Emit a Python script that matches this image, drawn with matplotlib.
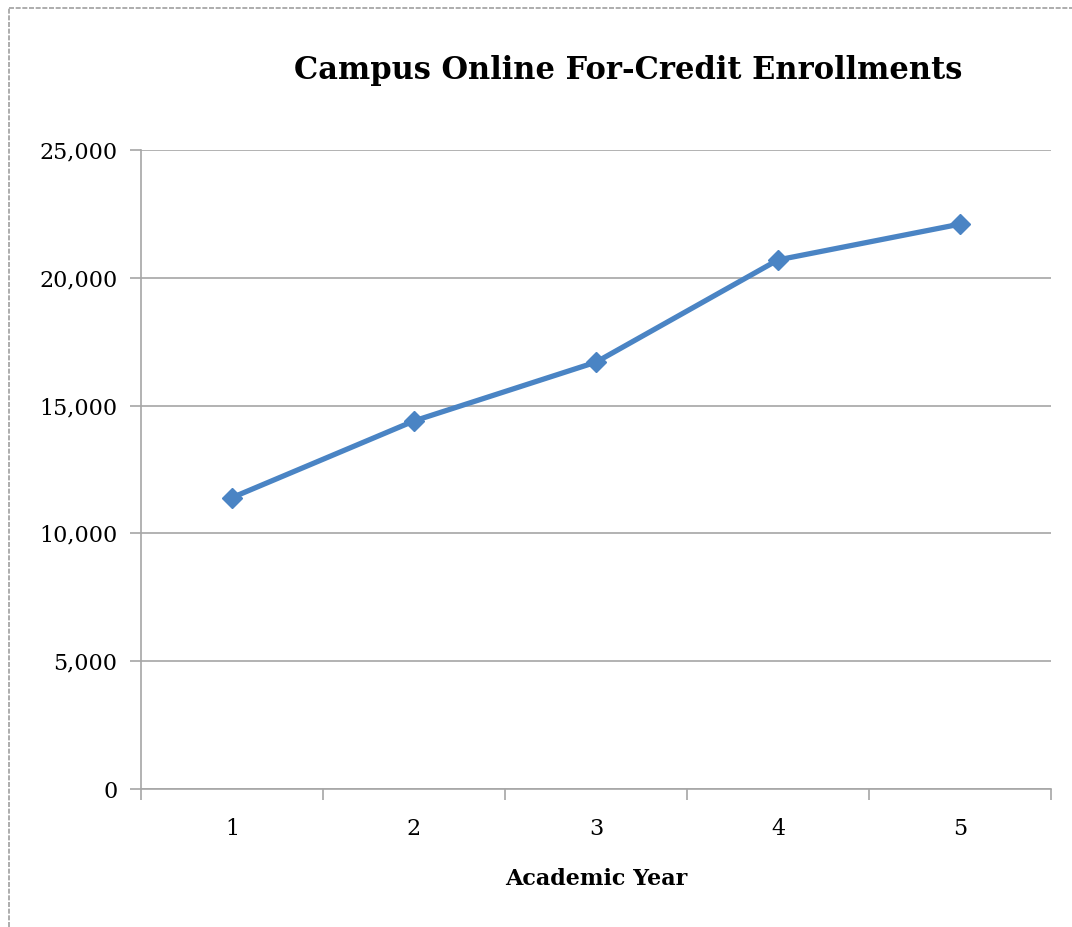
import matplotlib
matplotlib.use("Agg")
import matplotlib.pyplot as plt
from matplotlib.lines import Line2D
from matplotlib.ticker import FuncFormatter, FixedLocator, NullFormatter

years = ["1", "2", "3", "4", "5"]
enrollments = [11400, 14400, 16700, 20700, 22100]
y_ticks = [0, 5000, 10000, 15000, 20000, 25000]

plt.rcParams['font.family'] = ['DejaVu Serif', 'Liberation Serif']

fig = plt.figure(figsize=(10.72, 9.27), dpi=100)
ax = fig.add_axes([141/1072, 138/927, 910/1072, 639/927])

x = list(range(len(years)))
ax.plot(x, enrollments, color="#4A84C4", linewidth=3.8, marker="D", markersize=10,
        markeredgecolor="#4A84C4", markerfacecolor="#4A84C4", zorder=3)

ax.set_xlim(-0.5, len(years) - 0.5)
ax.set_ylim(0, 25000)
ax.set_yticks(y_ticks)
ax.yaxis.set_major_formatter(FuncFormatter(lambda v, p: f"{int(v):,}"))
ax.grid(axis="y", color="#A6A6A6", linewidth=1.2)
ax.set_axisbelow(True)

# category labels at centers, tick marks at boundaries
ax.xaxis.set_major_locator(FixedLocator([i - 0.5 for i in range(len(years) + 1)]))
ax.xaxis.set_major_formatter(NullFormatter())
ax.xaxis.set_minor_locator(FixedLocator(x))
ax.set_xticklabels(years, minor=True)
ax.tick_params(axis="x", which="major", direction="out", length=8, color="#A6A6A6", width=1.2)
ax.tick_params(axis="x", which="minor", length=0, pad=21, labelsize=16)
ax.tick_params(axis="y", direction="out", length=8, color="#A6A6A6", width=1.2, labelsize=16, pad=9)

for s in ["top", "right"]:
    ax.spines[s].set_visible(False)
for s in ["left", "bottom"]:
    ax.spines[s].set_color("#A6A6A6")
    ax.spines[s].set_linewidth(1.2)

ax.set_xlabel("Academic Year", fontsize=16, fontweight="bold", labelpad=20)
fig.text(628/1072, 1 - 70/927, "Campus Online For-Credit Enrollments", ha="center", va="center",
         fontsize=22, fontweight="bold")

# left and top frame edges only
bx, by = 8.5/1072, 1 - 7.5/927
fig.add_artist(Line2D([bx, bx], [0, by], transform=fig.transFigure, color="#A0A0A0",
                      linewidth=1.2, linestyle=(0, (3, 1))))
fig.add_artist(Line2D([bx, 1], [by, by], transform=fig.transFigure, color="#A0A0A0",
                      linewidth=1.2, linestyle=(0, (3, 1))))

fig.savefig("out.png", dpi=100)
